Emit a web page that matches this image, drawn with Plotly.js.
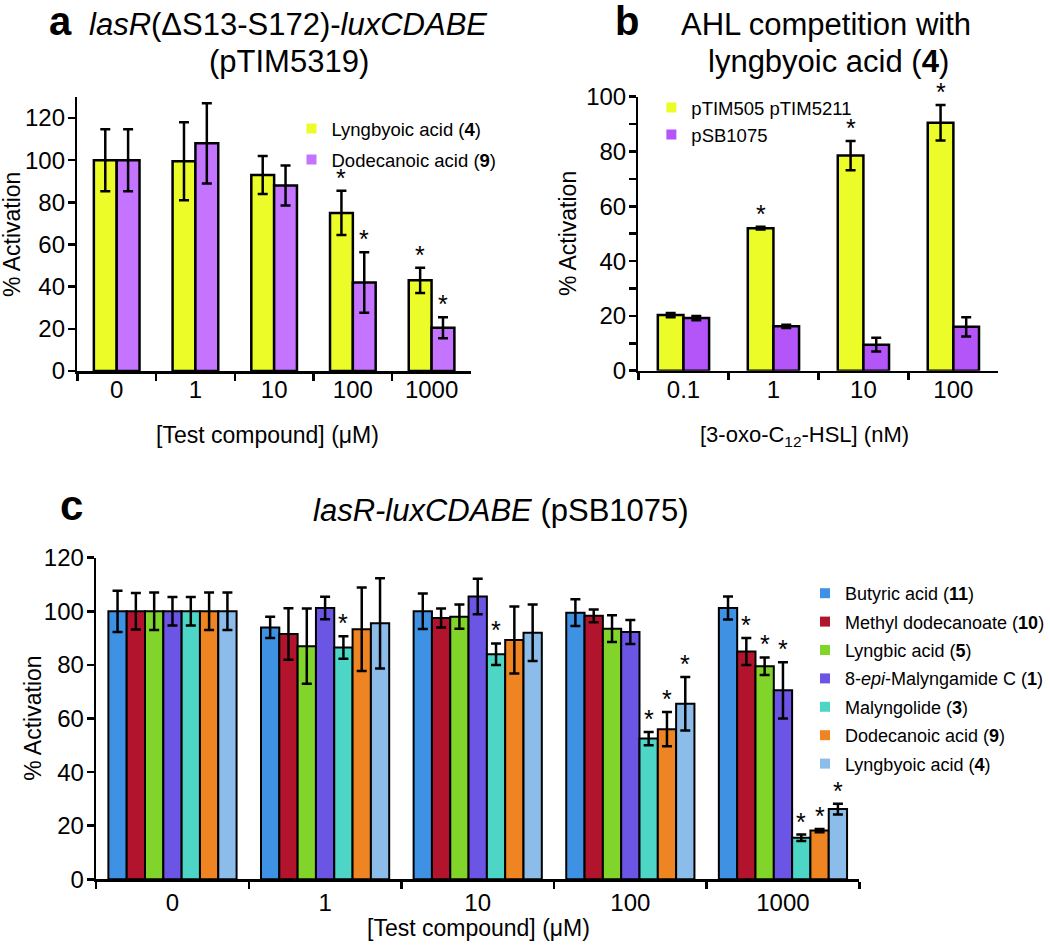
<!DOCTYPE html>
<html>
<head>
<meta charset="utf-8">
<script src="https://cdn.plot.ly/plotly-3.0.1.min.js"></script>
<style>html,body{margin:0;padding:0;background:#fff;}#chart{width:1050px;height:945px;}</style>
</head>
<body>
<div id="chart"></div>
<script>
// ---------- DATA ----------
// Panel a
const concA = ['0', '1', '10', '100', '1000'];
const lyngbyoicA = [100, 99.5, 93, 75, 43];
const lyngbyoicAErr = [14.7, 18.5, 9, 10.5, 6];
const lyngbyoicASig = [0, 0, 0, 1, 1];
const dodecanoicA = [100, 108, 88, 42, 20.5];
const dodecanoicAErr = [14.7, 19, 9.5, 14.4, 5];
const dodecanoicASig = [0, 0, 0, 1, 1];

// Panel b
const ahlB = ['0.1', '1', '10', '100'];
const ptimB = [20.3, 52, 78.5, 90.5];
const ptimBErr = [0.8, 0.5, 5.3, 6.5];
const ptimBSig = [0, 1, 1, 1];
const psbB = [19.2, 16.2, 9.5, 16];
const psbBErr = [0.8, 0.6, 2.5, 3.5];
const psbBSig = [0, 0, 0, 0];

// Panel c
const concC = ['0', '1', '10', '100', '1000'];
const butyricC = [100, 94, 100, 99.5, 101.2];
const butyricCErr = [7.7, 4, 6.6, 5, 4.3];
const butyricCSig = [0, 0, 0, 0, 0];
const methylC = [100, 91.5, 97.5, 98.3, 85];
const methylCErr = [6.8, 9.6, 3.5, 2.4, 5];
const methylCSig = [0, 0, 0, 0, 1];
const lyngbicC = [100, 87, 98, 93.5, 79.5];
const lyngbicCErr = [7, 14, 4.5, 5, 3.3];
const lyngbicCSig = [0, 0, 0, 0, 1];
const epiC = [100, 101.2, 105.5, 92.3, 70.5];
const epiCErr = [5.3, 4.2, 6.6, 4.5, 10.5];
const epiCSig = [0, 0, 0, 0, 1];
const malyngolideC = [100, 86.5, 84, 52.5, 15.5];
const malyngolideCErr = [5.3, 4.2, 4, 2.5, 1.2];
const malyngolideCSig = [0, 1, 1, 1, 1];
const dodecanoicC = [100, 93.3, 89.3, 56, 18.2];
const dodecanoicCErr = [7, 15.6, 12.5, 6.4, 0.6];
const dodecanoicCSig = [0, 0, 0, 1, 1];
const lyngbyoicC = [100, 95.5, 92, 65.5, 26.2];
const lyngbyoicCErr = [7, 16.8, 10.5, 10, 2];
const lyngbyoicCSig = [0, 0, 0, 1, 1];

// Text
const yTitle = '% Activation';
const xTitleA = '[Test compound] (μM)';
const xTitleB = '[3-oxo-C<sub>12</sub>-HSL] (nM)';
const xTitleC = '[Test compound] (μM)';

// ---------- STYLE ----------
const W = 1050, H = 945;
const FONT = 'Liberation Sans, Arial, sans-serif';
const px = p => p / W;
const py = p => 1 - p / H;

const gapA = 0.42, gapB = 0.43, gapC = 0.16;

const traces = [];
const annotations = [];

function addSeries(opts) {
  const {x, y, err, sig, color, name, xa, ya, idx, n, gap, legend, group, lw} = opts;
  const w = (1 - gap) / n;
  const off = -(1 - gap) / 2 + w * idx;
  traces.push({
    type: 'bar', x: x, y: y, name: name, xaxis: xa, yaxis: ya,
    width: w, offset: off,
    marker: {color: color, line: {color: '#000', width: lw || 2}},
    error_y: {type: 'data', array: err, visible: true, color: '#000', thickness: 2.5, width: 5},
    showlegend: false, hoverinfo: 'skip'
  });
  // legend entry (small plain square, like the reference)
  traces.push({
    type: 'scatter', mode: 'markers', x: [null], y: [null], name: name,
    xaxis: xa, yaxis: ya, legend: legend, legendgroup: group,
    marker: {symbol: 'square', size: 10, color: color, line: {width: 0}},
    showlegend: true, hoverinfo: 'skip'
  });
  // significance stars
  sig.forEach((s, i) => {
    if (!s) return;
    annotations.push({
      x: i + off + w / 2, y: y[i] + err[i], xref: xa, yref: ya,
      text: '*', showarrow: false, xanchor: 'center', yanchor: 'bottom', yshift: -3,
      font: {family: FONT, size: 25, color: '#000'}
    });
  });
}

// Panel a
addSeries({x: concA, y: lyngbyoicA, err: lyngbyoicAErr, sig: lyngbyoicASig, color: '#ecfc28',
  name: 'Lyngbyoic acid (<b>4</b>)', xa: 'x', ya: 'y', idx: 0, n: 2, gap: gapA, legend: 'legend', group: 'a1', lw: 2.5});
addSeries({x: concA, y: dodecanoicA, err: dodecanoicAErr, sig: dodecanoicASig, color: '#c474ff',
  name: 'Dodecanoic acid (<b>9</b>)', xa: 'x', ya: 'y', idx: 1, n: 2, gap: gapA, legend: 'legend', group: 'a2', lw: 2.5});

// Panel b
addSeries({x: ahlB, y: ptimB, err: ptimBErr, sig: ptimBSig, color: '#ecfc28',
  name: 'pTIM505 pTIM5211', xa: 'x2', ya: 'y2', idx: 0, n: 2, gap: gapB, legend: 'legend2', group: 'b1', lw: 2.5});
addSeries({x: ahlB, y: psbB, err: psbBErr, sig: psbBSig, color: '#b455fa',
  name: 'pSB1075', xa: 'x2', ya: 'y2', idx: 1, n: 2, gap: gapB, legend: 'legend2', group: 'b2', lw: 2.5});

// Panel c
const cSeries = [
  [butyricC, butyricCErr, butyricCSig, '#3f91e4', 'Butyric acid (<b>11</b>)'],
  [methylC, methylCErr, methylCSig, '#b3142d', 'Methyl dodecanoate (<b>10</b>)'],
  [lyngbicC, lyngbicCErr, lyngbicCSig, '#80d42a', 'Lyngbic acid (<b>5</b>)'],
  [epiC, epiCErr, epiCSig, '#6a55e4', '8-<i>epi</i>-Malyngamide C (<b>1</b>)'],
  [malyngolideC, malyngolideCErr, malyngolideCSig, '#4dd6c6', 'Malyngolide (<b>3</b>)'],
  [dodecanoicC, dodecanoicCErr, dodecanoicCSig, '#ee8522', 'Dodecanoic acid (<b>9</b>)'],
  [lyngbyoicC, lyngbyoicCErr, lyngbyoicCSig, '#8cbce9', 'Lyngbyoic acid (<b>4</b>)']
];
cSeries.forEach((s, i) => addSeries({x: concC, y: s[0], err: s[1], sig: s[2], color: s[3], name: s[4],
  xa: 'x3', ya: 'y3', idx: i, n: cSeries.length, gap: gapC, legend: 'legend3', group: 'c' + i, lw: 2}));

// Panel titles and letters
function txt(x, y, text, size, opts) {
  return Object.assign({xref: 'paper', yref: 'paper', x: px(x), y: py(y), text: text, showarrow: false,
    xanchor: 'left', yanchor: 'middle', align: 'left', font: {family: FONT, size: size, color: '#000'}}, opts || {});
}
annotations.push(
  txt(61, 21, '<b>a</b>', 40, {xanchor: 'center', align: 'center'}),
  txt(88, 24, '<i>lasR</i>(ΔS13-S172)-<i>luxCDABE</i>', 31),
  txt(209, 61, '(pTIM5319)', 31),
  txt(632, 21, '<b>b</b>', 40, {xanchor: 'center', align: 'center'}),
  txt(685, 24, 'AHL competition with', 31),
  txt(712, 61, 'lyngbyoic acid (<b>4</b>)', 31),
  txt(72, 505, '<b>c</b>', 42, {xanchor: 'center', align: 'center'}),
  txt(314, 510, '<i>lasR-luxCDABE</i> (pSB1075)', 31),
  // axis titles
  txt(155, 435, xTitleA, 23),
  txt(704, 436, xTitleB, 22),
  txt(368, 928, xTitleC, 23),
  txt(12, 234, yTitle, 23, {xanchor: 'center', align: 'center', textangle: -90}),
  txt(573, 234, yTitle, 23, {xanchor: 'center', align: 'center', textangle: -90}),
  txt(33, 718, yTitle, 23, {xanchor: 'center', align: 'center', textangle: -90})
);

const tickFont = {family: FONT, size: 24, color: '#000'};

function xAxis(domain, anchor, labelShift) {
  return {
    domain: domain, anchor: anchor, type: 'category', tickson: 'boundaries',
    ticks: 'outside', ticklen: 7, tickwidth: 2.5, tickcolor: '#000',
    showline: true, linewidth: 2.5, linecolor: '#000', showgrid: false, zeroline: false,
    ticklabelstandoff: labelShift, tickfont: tickFont, fixedrange: true
  };
}
function yAxis(domain, anchor, range, minor) {
  const a = {
    domain: domain, anchor: anchor, range: range, dtick: 20, tick0: 0,
    ticks: 'outside', ticklen: 7, tickwidth: 2.5, tickcolor: '#000',
    showline: true, linewidth: 2.5, linecolor: '#000', showgrid: false, zeroline: false,
    ticklabelstandoff: -2, tickfont: tickFont, fixedrange: true
  };
  if (minor) a.minor = {dtick: 10, ticks: 'outside', ticklen: 7, tickwidth: 2.5, tickcolor: '#000', showgrid: false};
  return a;
}

const legendFont = {family: FONT, size: 18.5, color: '#000'};
const layout = {
  width: W, height: H,
  margin: {l: 0, r: 0, t: 0, b: 0},
  paper_bgcolor: '#fff', plot_bgcolor: 'rgba(0,0,0,0)',
  font: {family: FONT, color: '#000'},
  barmode: 'group', bargroupgap: 0, bargap: gapC,
  showlegend: true,
  xaxis: xAxis([px(78), px(475)], 'y', -4),
  yaxis: yAxis([py(371), py(97)], 'x', [0, 130], false),
  xaxis2: xAxis([px(644), px(1007)], 'y2', -4),
  yaxis2: yAxis([py(370.7), py(96.7)], 'x2', [0, 100], true),
  xaxis3: xAxis([px(97), px(866.7)], 'y3', 0),
  yaxis3: yAxis([py(879.3), py(557.7)], 'x3', [0, 120], false),
  legend: {x: px(294), y: py(110), xanchor: 'left', yanchor: 'top', font: legendFont,
    bgcolor: 'rgba(0,0,0,0)', tracegroupgap: 4, itemclick: false},
  legend2: {x: px(657), y: py(89), xanchor: 'left', yanchor: 'top', font: legendFont,
    bgcolor: 'rgba(0,0,0,0)', tracegroupgap: 0, itemclick: false},
  legend3: {x: px(812), y: py(575), xanchor: 'left', yanchor: 'top', font: {family: FONT, size: 18, color: '#000'},
    bgcolor: 'rgba(0,0,0,0)', tracegroupgap: 2, itemclick: false},
  annotations: annotations
};

Plotly.newPlot('chart', traces, layout, {displayModeBar: false, staticPlot: true});
</script>
</body>
</html>
